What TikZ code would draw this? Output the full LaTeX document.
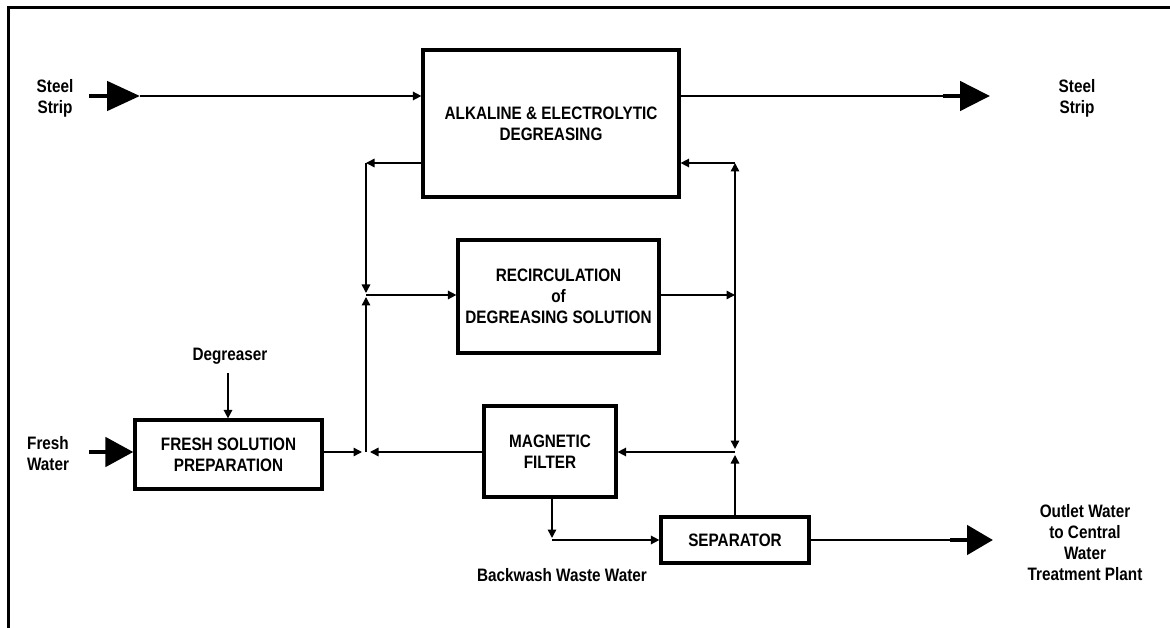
\documentclass[tikz,border=0pt]{standalone}
\usepackage{fontspec}
\setmainfont{Liberation Sans}[FakeStretch=0.85]
\usetikzlibrary{arrows.meta}
\begin{document}
\begin{tikzpicture}[x=1pt,y=-1pt,
  txt/.style={font=\bfseries\fontsize{18}{21}\selectfont},
  blk/.style={txt,draw,line width=3.2pt,inner sep=0pt,align=center},
  lab/.style={txt,inner sep=0pt,align=center},
  conn/.style={line width=1.5pt,>={Triangle[length=8.5pt,width=8.5pt]}},
  big/.style={line width=4.8pt,-{Triangle[length=#1,width=29pt]}},
  big/.default=30pt]
\useasboundingbox (0,0) rectangle (1170,628);
\draw[line width=3pt] (1170,8) -- (8,8) -- (8,628);

% blocks
\node[blk,minimum width=256pt,minimum height=147pt] (alk) at (551,123.5) {ALKALINE \& ELECTROLYTIC\\DEGREASING};
\node[blk,minimum width=201pt,minimum height=113pt] (rec) at (558.5,296.5) {RECIRCULATION\\of\\DEGREASING SOLUTION};
\node[blk,minimum width=187pt,minimum height=69pt] (fsp) at (228.5,454.5) {FRESH SOLUTION\\PREPARATION};
\node[blk,minimum width=132pt,minimum height=91pt] (mag) at (550,451.5) {MAGNETIC\\FILTER};
\node[blk,minimum width=148pt,minimum height=46pt] (sep) at (735,540) {SEPARATOR};

% labels
\node[lab] (ssl) at (55,98) {Steel\\Strip};
\node[lab] (ssr) at (1077,98) {Steel\\Strip};
\node[lab] (fw) at (48,454) {Fresh\\Water};
\node[lab] (deg) at (230,356) {Degreaser};
\node[lab] (bww) at (562,575) {Backwash Waste Water};
\node[lab] (out) at (1085,543) {Outlet Water\\to Central\\Water\\Treatment Plant};

% coordinates
\coordinate (inS) at (89,96);
\coordinate (tipS) at (140,96);
\coordinate (oS) at (943,96);
\coordinate (tipSo) at (990,96);
\coordinate (fw0) at (89,452);
\coordinate (dg) at (228,373);
\coordinate (tl) at (366,163);
\coordinate (jl) at (366,295);
\coordinate (jlt) at (366,293);
\coordinate (jlb) at (366,297);
\coordinate (bl) at (366,452);
\coordinate (blL) at (362,452);
\coordinate (blR) at (370,452);
\coordinate (tr) at (735,163);
\coordinate (jr) at (735,295);
\coordinate (br) at (735,452);
\coordinate (br1) at (735,449);
\coordinate (br2) at (735,455);
\coordinate (mb) at (552,540);
\coordinate (mbt) at (552,538);
\coordinate (oO) at (950,540);
\coordinate (tipO) at (993,540);

% steel strip
\draw[big=33pt] (inS) -- (tipS);
\draw[conn,->] (tipS) -- (alk.west |- tipS);
\draw[conn] (alk.east |- oS) -- (oS);
\draw[big] (oS) -- (tipSo);

% fresh water and degreaser
\draw[big=28pt] (fw0) -- (fsp.west |- fw0);
\draw[conn,->] (dg) -- (dg |- fsp.north);

% left loop
\draw[conn,->] (alk.west |- tl) -- (tl);
\draw[conn,->] (tl) -- (jlt);
\draw[conn,->] (bl) -- (jlb);
\draw[conn,->] (jl) -- (rec.west |- jl);
\draw[conn,->] (fsp.east |- bl) -- (blL);
\draw[conn,->] (mag.west |- bl) -- (blR);

% right loop
\draw[conn,->] (rec.east |- jr) -- (jr);
\draw[conn,->] (tr) -- (alk.east |- tr);
\draw[conn,<->] (tr) -- (br1);
\draw[conn,->] (sep.north) -- (br2);
\draw[conn,->] (br) -- (mag.east |- br);

% bottom
\draw[conn,->] (mb |- mag.south) -- (mbt);
\draw[conn,->] (mb) -- (sep.west |- mb);
\draw[conn] (sep.east) -- (oO);
\draw[big=26pt] (oO) -- (tipO);
\end{tikzpicture}
\end{document}
